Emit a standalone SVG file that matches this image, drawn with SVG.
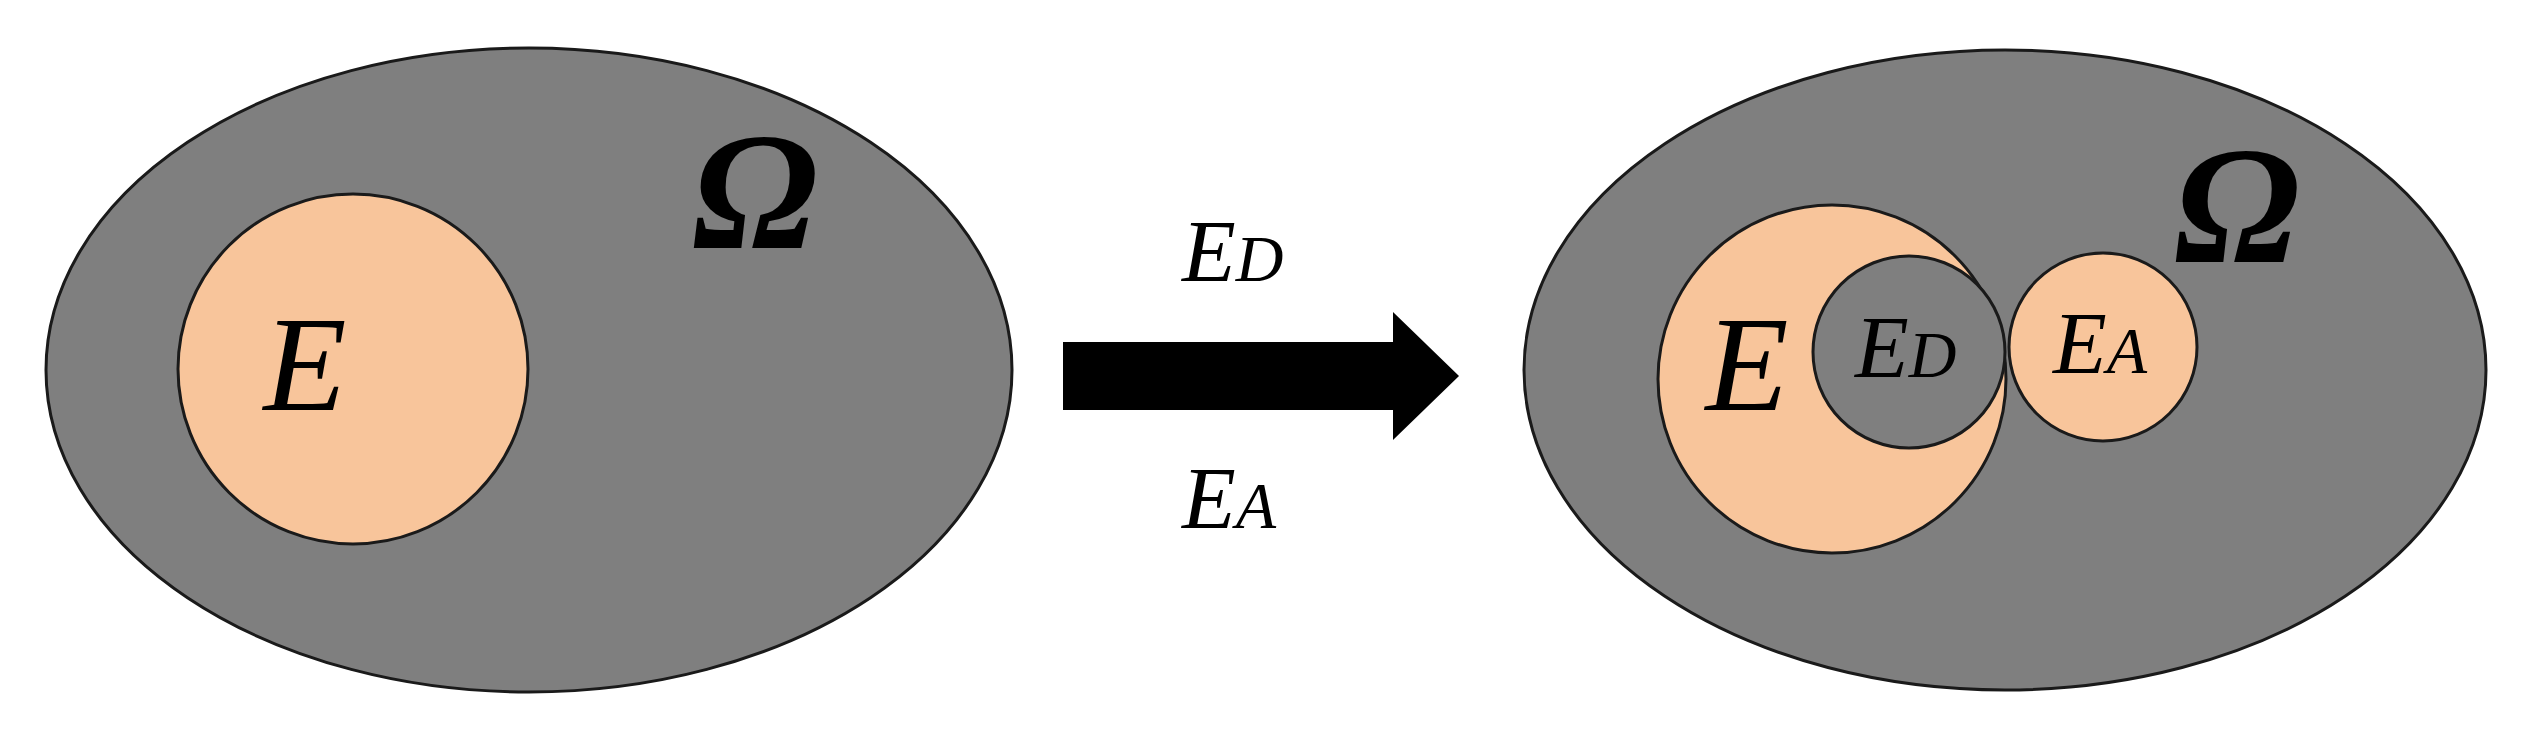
<svg xmlns="http://www.w3.org/2000/svg" width="2537" height="743" viewBox="0 0 2537 743">
<style>
.omega{fill:#7F7F7F;stroke:#1a1a1a;stroke-width:3}
.set{fill:#F8C59B;stroke:#1a1a1a;stroke-width:3}
.hole{fill:#7F7F7F;stroke:#1a1a1a;stroke-width:3}
text{font-family:"Times New Roman","Liberation Serif",Times,serif;font-style:italic;fill:#000}
.big{font-size:136px}
.om{font-size:168px;font-weight:bold}
.sm{font-size:88px}
.sub{font-size:66px}
</style>
<rect width="2537" height="743" fill="#fff"/>
<g id="left-universe">
<ellipse class="omega" cx="529" cy="370" rx="483" ry="322"/>
<text class="om" x="755" y="248" text-anchor="middle">Ω</text>
</g>
<g id="left-E">
<circle class="set" cx="353" cy="369" r="175"/>
<text class="big" x="305" y="410" text-anchor="middle">E</text>
</g>
<g id="connectors">
<path d="M1063,342 H1393 V312 L1459,376 L1393,440 V410 H1063 Z" fill="#000"/>
<text class="sm" x="1182" y="281">E<tspan class="sub">D</tspan></text>
<text class="sm" x="1182" y="528">E<tspan class="sub">A</tspan></text>
</g>
<g id="right-universe">
<ellipse class="omega" cx="2005" cy="370" rx="481" ry="320"/>
<text class="om" x="2237" y="262" text-anchor="middle">Ω</text>
</g>
<g id="right-E">
<circle class="set" cx="1832" cy="379" r="174"/>
<text class="big" x="1747" y="410" text-anchor="middle">E</text>
</g>
<g id="right-ED">
<circle class="hole" cx="1909" cy="352" r="96"/>
<text class="sm" x="1855" y="377">E<tspan class="sub">D</tspan></text>
</g>
<g id="right-EA">
<circle class="set" cx="2103" cy="347" r="94"/>
<text class="sm" x="2053" y="373">E<tspan class="sub">A</tspan></text>
</g>
</svg>
